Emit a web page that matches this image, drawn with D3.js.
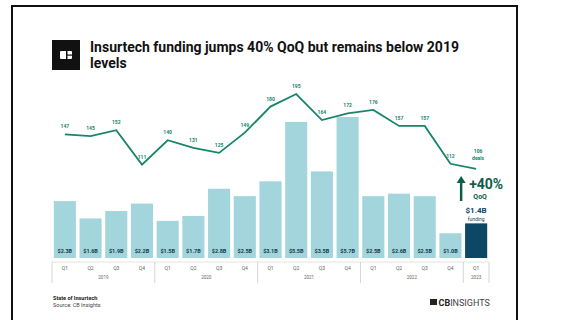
<!DOCTYPE html>
<html>
<head>
<meta charset="utf-8">
<script src="https://cdn.jsdelivr.net/npm/d3@7"></script>
<style>
  body { margin: 0; background: #fff; }
  svg { display: block; font-family: Roboto, "Noto Sans", sans-serif; }
</style>
</head>
<body>
<div id="chart"></div>
<script>
// chart data
var years = ["2019", "2019", "2019", "2019", "2020", "2020", "2020", "2020",
             "2021", "2021", "2021", "2021", "2022", "2022", "2022", "2022", "2023"];
var quarters = ["Q1", "Q2", "Q3", "Q4", "Q1", "Q2", "Q3", "Q4",
                "Q1", "Q2", "Q3", "Q4", "Q1", "Q2", "Q3", "Q4", "Q1"];
var funding = [2.3, 1.6, 1.9, 2.2, 1.5, 1.7, 2.8, 2.5, 3.1, 5.5, 3.5, 5.7, 2.5, 2.6, 2.5, 1.0, 1.4];
var deals = [147, 145, 152, 111, 140, 131, 125, 149, 180, 195, 164, 172, 176, 157, 157, 112, 106];
var yearLabels = ["2019", "2020", "2021", "2022", "2023"];

var svgWidth = 566;
var svgHeight = 320;
var baseY = 258;

var svg = d3.select("#chart").append("svg")
  .attr("width", svgWidth)
  .attr("height", svgHeight);

svg.append("rect").attr("width", svgWidth).attr("height", svgHeight).attr("fill", "#fff");

// frame
svg.append("path")
  .attr("d", "M12,320 L12,6 L517,6 L517,320")
  .attr("fill", "none")
  .attr("stroke", "#111")
  .attr("stroke-width", 2);

// logo + title
svg.append("rect").attr("x", 52).attr("y", 40).attr("width", 28).attr("height", 30).attr("fill", "#111");
svg.append("rect").attr("x", 60).attr("y", 51).attr("width", 12).attr("height", 8).attr("rx", 1).attr("fill", "#fff");
svg.append("rect").attr("x", 66).attr("y", 51).attr("width", 1.5).attr("height", 8).attr("fill", "#111");
svg.append("rect").attr("x", 66).attr("y", 54.5).attr("width", 6).attr("height", 1.2).attr("fill", "#111");

svg.append("text").attr("x", 90).attr("y", 52)
  .style("font-size", "14px").style("font-weight", "bold").attr("fill", "#111")
  .text("Insurtech funding jumps 40% QoQ but remains below 2019");
svg.append("text").attr("x", 90).attr("y", 68)
  .style("font-size", "14px").style("font-weight", "bold").attr("fill", "#111")
  .text("levels");

// scales
var keys = years.map(function(y, i) { return y + "-" + quarters[i]; });

var xScale = d3.scaleBand()
  .domain(keys)
  .range([52, 489])
  .paddingInner(0.14)
  .paddingOuter(0.07);

var yFunding = d3.scaleLinear().domain([0, 5.7]).range([baseY, 117]);
var yDeals = d3.scaleLinear().domain([0, 195]).range([baseY, 94]);

var last = keys.length - 1;

// bars
svg.selectAll("rect.bar")
  .data(funding)
  .enter()
  .append("rect")
  .attr("class", "bar")
  .attr("x", function(d, i) { return xScale(keys[i]); })
  .attr("y", function(d) { return yFunding(d); })
  .attr("width", xScale.bandwidth())
  .attr("height", function(d) { return baseY - yFunding(d); })
  .attr("fill", function(d, i) { return i === last ? "#0c4766" : "#a3d6dc"; });

// bar value labels
svg.selectAll("text.bar-label")
  .data(funding.slice(0, last))
  .enter()
  .append("text")
  .attr("class", "bar-label")
  .attr("x", function(d, i) { return xScale(keys[i]) + xScale.bandwidth() / 2; })
  .attr("y", baseY - 5)
  .attr("text-anchor", "middle")
  .style("font-size", "5.5px")
  .style("font-weight", "bold")
  .attr("fill", "#173c4f")
  .text(function(d) { return "$" + d.toFixed(1) + "B"; });

// category table
var step = xScale.step();
var gap = step - xScale.bandwidth();
var leftEdge = xScale(keys[0]) - gap / 2;
var rightEdge = xScale(keys[last]) + xScale.bandwidth() + gap / 2;

svg.append("line")
  .attr("x1", leftEdge).attr("x2", rightEdge)
  .attr("y1", baseY + 4).attr("y2", baseY + 4)
  .attr("stroke", "#ddd").attr("stroke-width", 0.8);

var yearStarts = [];
years.forEach(function(y, i) { if (i === 0 || years[i - 1] !== y) yearStarts.push(i); });

yearStarts.forEach(function(i) {
  var xs = xScale(keys[i]) - gap / 2;
  svg.append("line")
    .attr("x1", xs).attr("x2", xs)
    .attr("y1", baseY + 4).attr("y2", baseY + 25)
    .attr("stroke", "#ccc").attr("stroke-width", 0.8);
});
svg.append("line")
  .attr("x1", rightEdge).attr("x2", rightEdge)
  .attr("y1", baseY + 4).attr("y2", baseY + 25)
  .attr("stroke", "#ccc").attr("stroke-width", 0.8);

svg.selectAll("text.q-label")
  .data(quarters)
  .enter()
  .append("text")
  .attr("class", "q-label")
  .attr("x", function(d, i) { return xScale(keys[i]) + xScale.bandwidth() / 2; })
  .attr("y", baseY + 12)
  .attr("text-anchor", "middle")
  .style("font-size", "5px")
  .attr("fill", "#666")
  .text(function(d) { return d; });

yearLabels.forEach(function(y) {
  var idx = [];
  years.forEach(function(yy, i) { if (yy === y) idx.push(i); });
  var x0 = xScale(keys[idx[0]]);
  var x1 = xScale(keys[idx[idx.length - 1]]) + xScale.bandwidth();
  svg.append("text")
    .attr("x", (x0 + x1) / 2)
    .attr("y", baseY + 21)
    .attr("text-anchor", "middle")
    .style("font-size", "4.5px")
    .attr("fill", "#666")
    .text(y);
});

// deals line
var line = d3.line()
  .x(function(d, i) { return xScale(keys[i]) + xScale.bandwidth() / 2; })
  .y(function(d) { return yDeals(d); });

svg.append("path")
  .datum(deals)
  .attr("d", line)
  .attr("fill", "none")
  .attr("stroke", "#16856a")
  .attr("stroke-width", 1.8);

svg.selectAll("text.deal-label")
  .data(deals.slice(0, last))
  .enter()
  .append("text")
  .attr("class", "deal-label")
  .attr("x", function(d, i) { return xScale(keys[i]) + xScale.bandwidth() / 2; })
  .attr("y", function(d) { return yDeals(d) - 6; })
  .attr("text-anchor", "middle")
  .style("font-size", "5px")
  .style("font-weight", "bold")
  .attr("fill", "#16856a")
  .text(function(d) { return d; });

// last quarter annotations
var lastX = xScale(keys[last]) + xScale.bandwidth() / 2;
svg.append("text").attr("x", lastX + 2).attr("y", yDeals(deals[last]) - 16)
  .attr("text-anchor", "middle").style("font-size", "5px").style("font-weight", "bold")
  .attr("fill", "#16856a").text(deals[last]);
svg.append("text").attr("x", lastX + 2).attr("y", yDeals(deals[last]) - 9)
  .attr("text-anchor", "middle").style("font-size", "5px").style("font-weight", "bold")
  .attr("fill", "#16856a").text("deals");

// up arrow
svg.append("line")
  .attr("x1", lastX - 15).attr("x2", lastX - 15)
  .attr("y1", 201).attr("y2", 181)
  .attr("stroke", "#0d5e4a").attr("stroke-width", 2.5);
svg.append("path")
  .attr("d", "M" + (lastX - 19.5) + ",183 L" + (lastX - 15) + ",176 L" + (lastX - 10.5) + ",183 Z")
  .attr("fill", "#0d5e4a");

svg.append("text").attr("x", lastX - 7).attr("y", 189)
  .style("font-size", "14px").style("font-weight", "bold").attr("fill", "#0d5e4a")
  .text("+40%");
svg.append("text").attr("x", lastX + 4).attr("y", 199)
  .attr("text-anchor", "middle").style("font-size", "7px").style("font-weight", "bold")
  .attr("fill", "#0d5e4a").text("QoQ");
svg.append("text").attr("x", lastX).attr("y", 213)
  .attr("text-anchor", "middle").style("font-size", "8px").style("font-weight", "bold")
  .attr("fill", "#0c4766").text("$" + funding[last].toFixed(1) + "B");
svg.append("text").attr("x", lastX).attr("y", 221)
  .attr("text-anchor", "middle").style("font-size", "5px")
  .attr("fill", "#0c4766").text("funding");

// footer
svg.append("text").attr("x", 53).attr("y", 300)
  .style("font-size", "5.5px").style("font-weight", "bold").attr("fill", "#222")
  .text("State of Insurtech");
svg.append("text").attr("x", 53).attr("y", 307)
  .style("font-size", "5.5px").attr("fill", "#444")
  .text("Source: CB Insights");

svg.append("rect").attr("x", 430).attr("y", 299).attr("width", 7).attr("height", 6).attr("fill", "#222");
svg.append("text").attr("x", 438.5).attr("y", 305.5)
  .style("font-size", "9px").style("font-weight", "bold").attr("fill", "#222")
  .text("CB")
  .append("tspan").style("font-weight", "normal").attr("fill", "#444").text("INSIGHTS");
</script>
</body>
</html>
